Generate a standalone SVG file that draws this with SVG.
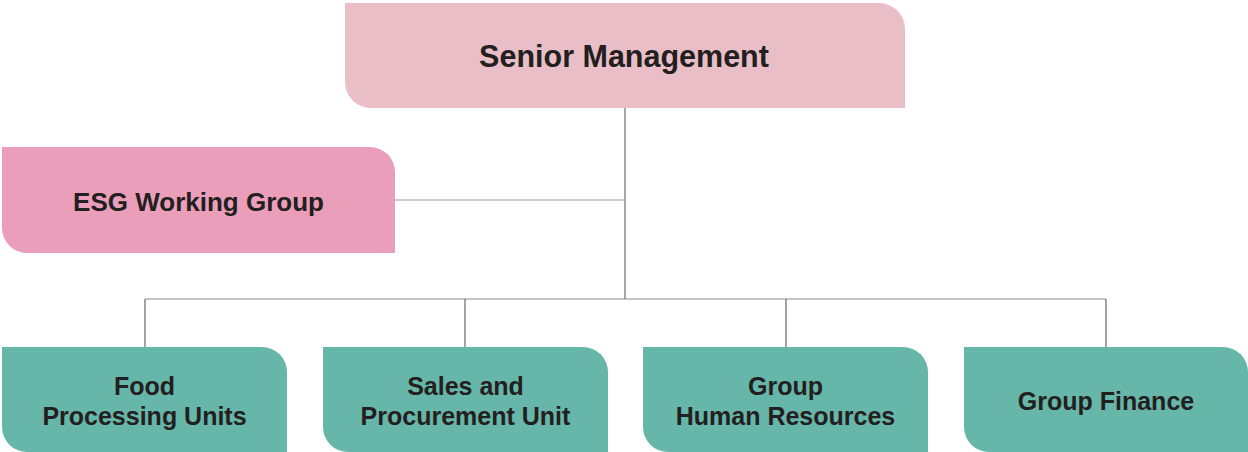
<svg xmlns="http://www.w3.org/2000/svg" width="1248" height="452" viewBox="0 0 1248 452">
<style>
.lbl{font-family:"Liberation Sans",Arial,Helvetica,sans-serif;font-weight:bold;fill:#231F20;text-anchor:middle}
.t1{font-size:30.5px}
.t2{font-size:26px}
.t3{font-size:25px}
.senior{fill:#EABEC6}
.esg{fill:#EB9EBA}
.unit{fill:#66B6A9}
.ln{fill:none;stroke-width:1.2}
</style>
<rect width="1248" height="452" fill="#ffffff"/>
<g id="connectors">
<path class="ln" stroke="#6a6a6a" d="M625,108 V299"/>
<path class="ln" stroke="#a0a0a0" d="M395,200 H625"/>
<path class="ln" stroke="#8a8a8a" d="M145,299 H1106"/>
<path class="ln" stroke="#6a6a6a" d="M145,299 V347 M465,299 V347 M786,299 V347 M1106,299 V347"/>
</g>
<g id="senior-management">
<path class="senior" d="M345,3 H879 A26,26 0 0 1 905,29 V108 H371 A26,26 0 0 1 345,82 Z"/>
<text class="lbl t1" x="624" y="67">Senior Management</text>
</g>
<g id="esg-working-group">
<path class="esg" d="M2,147 H370 A25,25 0 0 1 395,172 V253 H27 A25,25 0 0 1 2,228 Z"/>
<text class="lbl t2" x="198.5" y="211">ESG Working Group</text>
</g>
<g id="food-processing-units">
<path class="unit" d="M2,347 H262 A25,25 0 0 1 287,372 V452 H27 A25,25 0 0 1 2,427 Z"/>
<text class="lbl t3" x="144.5" y="395">Food</text>
<text class="lbl t3" x="144.5" y="425">Processing Units</text>
</g>
<g id="sales-procurement-unit">
<path class="unit" d="M323,347 H583 A25,25 0 0 1 608,372 V452 H348 A25,25 0 0 1 323,427 Z"/>
<text class="lbl t3" x="465.5" y="395">Sales and</text>
<text class="lbl t3" x="465.5" y="425">Procurement Unit</text>
</g>
<g id="group-human-resources">
<path class="unit" d="M643,347 H903 A25,25 0 0 1 928,372 V452 H668 A25,25 0 0 1 643,427 Z"/>
<text class="lbl t3" x="785.5" y="395">Group</text>
<text class="lbl t3" x="785.5" y="425">Human Resources</text>
</g>
<g id="group-finance">
<path class="unit" d="M964,347 H1223 A25,25 0 0 1 1248,372 V452 H989 A25,25 0 0 1 964,427 Z"/>
<text class="lbl t3" x="1106" y="410">Group Finance</text>
</g>
</svg>
